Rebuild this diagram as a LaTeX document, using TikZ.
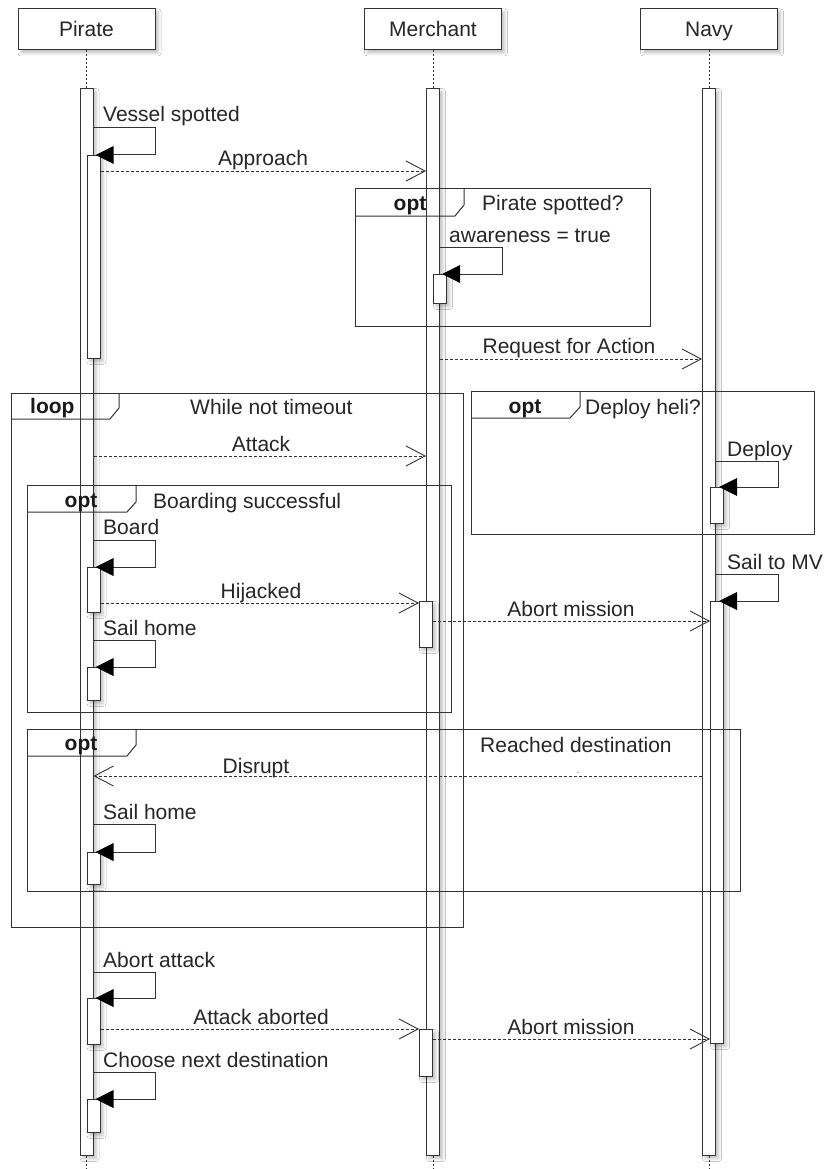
\documentclass[tikz,border=0pt]{standalone}
\usepackage{fontspec}
\setmainfont{Liberation Sans}
\usetikzlibrary{arrows.meta,shadows.blur}

\tikzset{
  shad/.style={blur shadow={shadow xshift=3pt, shadow yshift=-3pt, shadow blur radius=3pt, shadow opacity=25}},
  head/.style={draw=black!80, line width=1pt, fill=white, minimum width=137pt, minimum height=41pt, inner sep=0pt, text height=17pt, text depth=2pt, shad, font=\fontsize{21}{25}\selectfont, text=black!85},
  actbar/.style={draw=black!80, line width=1pt, fill=white, minimum width=13pt, inner sep=0pt, anchor=north, shad},
  life/.style={draw=black!80, line width=0.8pt, dash pattern=on 2pt off 2pt},
  msg/.style={draw=black!80, line width=0.9pt, dash pattern=on 3pt off 2pt, -{Straight Barb[length=19pt,width=20pt,line width=0.9pt]}},
  selfline/.style={draw=black!80, line width=1pt},
  selftip/.style={fill=black},
  frm/.style={draw=black!80, line width=1pt},
  lbl/.style={font=\fontsize{21}{25}\selectfont, text=black!85, inner sep=0pt, anchor=base},
  lbll/.style={lbl, anchor=base west},
  tabt/.style={font=\bfseries\fontsize{21}{25}\selectfont, text=black!90, inner sep=0pt, anchor=base},
}

% self message: from bar, to bar, y1
\newcommand{\selfmsgx}[3]{%
  \draw[selfline] (#1.east |- {(0,#3)}) -- ++(62,0) |- (#2.north east);
  \fill[selftip] ([xshift=-5pt]#2.north east) -- ++(18,-9) -- ++(0,18) -- cycle;
}

\begin{document}
\begin{tikzpicture}[x=1pt,y=-1pt]
\useasboundingbox (0,0) rectangle (827,1169);
\fill[white] (0,0) rectangle (827,1169);

% headers
\node[head] (P) at (86.5,29.5) {Pirate};
\node[head] (M) at (433,29.5) {Merchant};
\node[head] (N) at (709,29.5) {Navy};

% lifeline ends
\coordinate (Pend) at (86.5,1169);
\coordinate (Mend) at (433,1169);
\coordinate (Nend) at (709,1169);

% outer bars
\node[actbar, minimum height=1067pt] (pA) at (86.5,88) {};
\node[actbar, minimum height=1067pt] (mA) at (433,88) {};
\node[actbar, minimum height=1067pt] (nA) at (709,88) {};

\draw[life] (P.south) -- (pA.north);
\draw[life] (M.south) -- (mA.north);
\draw[life] (N.south) -- (nA.north);
\draw[life] (pA.south) -- (Pend);
\draw[life] (mA.south) -- (Mend);
\draw[life] (nA.south) -- (Nend);

% nested bars
\node[actbar, minimum height=203pt] (p1) at (93.5,155) {};
\node[actbar, minimum height=45pt] (p2) at (93.5,567) {};
\node[actbar, minimum height=33pt] (p3) at (93.5,667) {};
\node[actbar, minimum height=32pt] (p4) at (93.5,852) {};
\node[actbar, minimum height=46pt] (p5) at (93.5,998) {};
\node[actbar, minimum height=33pt] (p6) at (93.5,1099) {};
\node[actbar, minimum height=29pt] (m1) at (440,274) {};
\node[actbar, minimum height=46pt] (m2) at (426,601) {};
\node[actbar, minimum height=47pt] (m3) at (426,1029) {};
\node[actbar, minimum height=36pt] (v1) at (717,487) {};
\node[actbar, minimum height=442pt] (v2) at (717,601) {};

% frames
% opt: Pirate spotted?
\draw[frm] (355,189) rectangle (650,326);
\draw[frm] (355,216) -- (455,216) -- (464,205) -- (464,189);
\node[tabt] (t1) at (410,210) {opt};
\node[lbll] (g1) at (482,211) {Pirate spotted?};
% loop
\draw[frm] (11,393) rectangle (463,927);
\draw[frm] (11,419) -- (110,419) -- (119,408) -- (119,393);
\node[tabt, anchor=base west] (t2) at (30,413) {loop};
\node[lbll] (g2) at (190,414) {While not timeout};
% opt: Boarding successful
\draw[frm] (27,485) rectangle (451,712);
\draw[frm] (27,512) -- (127,512) -- (136,502) -- (136,485);
\node[tabt] (t3) at (81,507) {opt};
\node[lbll] (g3) at (153,508) {Boarding successful};
% opt: Deploy heli?
\draw[frm] (471,391) rectangle (814,534);
\draw[frm] (471,418) -- (570,418) -- (580,407) -- (580,391);
\node[tabt] (t4) at (525,413) {opt};
\node[lbll] (g4) at (585,414) {Deploy heli?};
% opt: Reached destination
\draw[frm] (27,729) rectangle (740,891);
\draw[frm] (27,756) -- (127,756) -- (136,745) -- (136,729);
\node[tabt] (t5) at (81,750) {opt};
\node[lbll] (g5) at (480,752) {Reached destination};
\node[lbl, font=\fontsize{8}{9}\selectfont] (g5dot) at (578,773) {.};

% self messages
\selfmsgx{pA}{p1}{128}
\node[lbll] (s1) at (103,122) {Vessel spotted};
\selfmsgx{mA}{m1}{247}
\node[lbll] (s2) at (449,242) {awareness = true};
\selfmsgx{pA}{p2}{540}
\node[lbll] (s3) at (103,534) {Board};
\selfmsgx{pA}{p3}{640}
\node[lbll] (s4) at (103,635) {Sail home};
\selfmsgx{nA}{v1}{461}
\node[lbll] (s5) at (727,456) {Deploy};
\selfmsgx{nA}{v2}{574}
\node[lbll] (s6) at (727,569) {Sail to MV};
\selfmsgx{pA}{p4}{824}
\node[lbll] (s7) at (103,819) {Sail home};
\selfmsgx{pA}{p5}{972}
\node[lbll] (s8) at (103,967) {Abort attack};
\selfmsgx{pA}{p6}{1072}
\node[lbll] (s9) at (103,1067) {Choose next destination};

% messages
\draw[msg] (p1.east |- {(0,171)}) -- (mA.west |- {(0,171)});
\node[lbl] (l1) at (263,166) {Approach};
\draw[msg] (mA.east |- {(0,359)}) -- (nA.west |- {(0,359)});
\node[lbl] (l2) at (569,353) {Request for Action};
\draw[msg] (pA.east |- {(0,456)}) -- (mA.west |- {(0,456)});
\node[lbl] (l3) at (261,451) {Attack};
\draw[msg] (p2.east |- {(0,603)}) -- (m2.west |- {(0,603)});
\node[lbl] (l4) at (261,598) {Hijacked};
\draw[msg] (m2.east |- {(0,621)}) -- (v2.west |- {(0,621)});
\node[lbl] (l5) at (571,616) {Abort mission};
\draw[msg] (nA.west |- {(0,776)}) -- (pA.east |- {(0,776)});
\node[lbl] (l6) at (256,773) {Disrupt};
\draw[msg] (p5.east |- {(0,1029)}) -- (m3.west |- {(0,1029)});
\node[lbl] (l7) at (261,1024) {Attack aborted};
\draw[msg] (m3.east |- {(0,1039)}) -- (v2.west |- {(0,1039)});
\node[lbl] (l8) at (571,1034) {Abort mission};
\end{tikzpicture}
\end{document}
